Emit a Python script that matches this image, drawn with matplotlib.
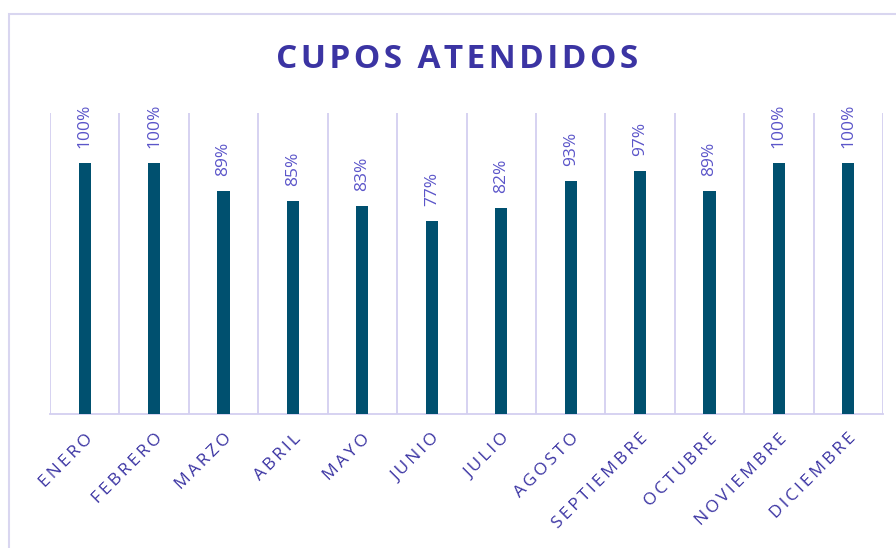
import matplotlib.pyplot as plt
from matplotlib.patches import Rectangle
import numpy as np

meses = ['ENERO', 'FEBRERO', 'MARZO', 'ABRIL', 'MAYO', 'JUNIO', 'JULIO',
         'AGOSTO', 'SEPTIEMBRE', 'OCTUBRE', 'NOVIEMBRE', 'DICIEMBRE']
cupos = [1.00, 1.00, 0.89, 0.85, 0.83, 0.77, 0.82, 0.93, 0.97, 0.89, 1.00, 1.00]
etiquetas = ['100%', '100%', '89%', '85%', '83%', '77%', '82%', '93%', '97%', '89%', '100%', '100%']

bar_color = '#00506f'; grid_color = '#d3cff0'; title_color = '#3b34a3'; lab_color = '#5b55c9'
plt.rcParams['font.family'] = ['Open Sans', 'DejaVu Sans']

def spaced(s, sp='\u200a'):
    # poor man's letter spacing
    return sp.join(s)

fig = plt.figure(figsize=(8.96, 5.48), dpi=100)
fig.patches.append(Rectangle((9/896, -0.1), 1.2, 1 - 14/548 + 0.1, transform=fig.transFigure,
                             fill=False, edgecolor='#d9d6f0', linewidth=1.5))
ax = fig.add_axes([50/896, 1 - 414/548, 833/896, 301/548])

x = np.arange(len(meses))
ax.bar(x, cupos, width=0.175, color=bar_color, zorder=3)
for xi, v, t in zip(x, cupos, etiquetas):
    ax.text(xi, v + 0.06, t, rotation=90, ha='center', va='bottom', color=lab_color, fontsize=12.5)

ax.set_xlim(-0.5, len(meses) - 0.5)
ax.set_ylim(0, 1.2)
ax.set_yticks([])
ax.set_xticks(x)
ax.set_xticklabels([spaced(m, '\u2009') for m in meses], rotation=45, ha='right', rotation_mode='anchor',
                   color=title_color, fontsize=12.5)
ax.tick_params(axis='x', length=0, pad=12)
ax.set_xticks(np.arange(-0.5, len(meses)), minor=True)
ax.tick_params(axis='x', which='minor', length=0)
ax.grid(True, which='minor', axis='x', color=grid_color, linewidth=1.3, zorder=0)
for s in ['top', 'right', 'left']:
    ax.spines[s].set_visible(False)
ax.spines['bottom'].set_color(grid_color)
ax.spines['bottom'].set_linewidth(1.3)

fig.text(457/896, 1 - 60/548, spaced('CUPOS ATENDIDOS'), ha='center', va='center',
         color=title_color, fontsize=24, fontweight='bold')

plt.savefig('out.png', dpi=100)
